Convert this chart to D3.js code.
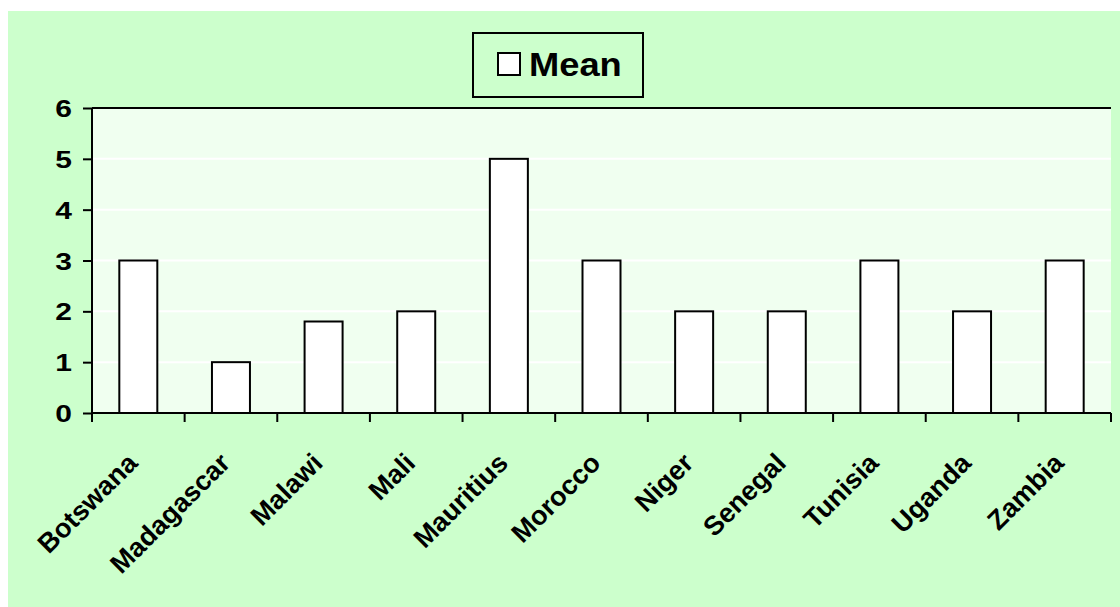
<!DOCTYPE html>
<html><head><meta charset="utf-8">
<script src="https://cdn.jsdelivr.net/npm/d3@7"></script>
<style>body{margin:0;background:#fff}svg{display:block}text{font-family:"Liberation Sans",Arial,sans-serif;font-weight:bold;fill:#000}</style>
</head><body>
<svg id="c" width="1120" height="607"></svg>
<script>
const categories = ["Botswana","Madagascar","Malawi","Mali","Mauritius","Morocco","Niger","Senegal","Tunisia","Uganda","Zambia"];
const meanValues = [3,1,1.8,2,5,3,2,2,3,2,3];
const yTicks = [0,1,2,3,4,5,6];
const seriesName = "Mean";

const svg = d3.select("#c");
svg.append("rect").attr("x",8).attr("y",11).attr("width",1112).attr("height",596).attr("fill","#ccffcc");

const m = {l:92, r:1111, t:108, b:413};
const xb = d3.scaleBand().domain(categories).range([m.l,m.r]);
const y = d3.scaleLinear().domain([0,6]).range([m.b,m.t]);

svg.append("rect").attr("x",m.l).attr("y",m.t).attr("width",m.r-m.l).attr("height",m.b-m.t).attr("fill","#f0fff0");

svg.append("g").selectAll("line").data(yTicks.filter(d=>d>0&&d<6)).join("line")
  .attr("x1",m.l).attr("x2",m.r).attr("y1",d=>y(d)).attr("y2",d=>y(d))
  .attr("stroke","#fff").attr("stroke-width",2);
svg.append("line").attr("x1",m.l).attr("x2",m.r).attr("y1",m.t).attr("y2",m.t).attr("stroke","#000").attr("stroke-width",2);

svg.append("g").selectAll("rect").data(categories).join("rect")
  .attr("x",(d)=>xb(d)+xb.bandwidth()/2-19)
  .attr("width",38)
  .attr("y",(d,i)=>y(meanValues[i]))
  .attr("height",(d,i)=>y(0)-y(meanValues[i]))
  .attr("fill","#fff").attr("stroke","#000").attr("stroke-width",2);

const ya = svg.append("g").attr("transform",`translate(${m.l},0)`)
  .call(d3.axisLeft(y).tickValues(yTicks).tickSize(9).tickPadding(10).tickFormat(d3.format("d")));
ya.attr("font-size",null).attr("font-family",null);
ya.select(".domain").attr("stroke","#000").attr("stroke-width",2).attr("d",`M0,${m.t}V${m.b}`);
ya.selectAll(".tick line").attr("stroke","#000").attr("stroke-width",2);
ya.selectAll("text").style("font-size","24px").attr("dy","0.36em")
  .attr("x",-20/1.25).attr("transform","scale(1.25,1)");

const xa = svg.append("g").attr("transform",`translate(0,${m.b})`)
  .call(d3.axisBottom(xb).tickSize(0).tickFormat(""));
xa.select(".domain").attr("stroke","#000").attr("stroke-width",2).attr("d",`M${m.l},0H${m.r}`);
const edges = categories.map(c=>xb(c)).concat([m.r]);
svg.append("g").selectAll("line").data(edges).join("line")
  .attr("x1",d=>d).attr("x2",d=>d).attr("y1",m.b).attr("y2",m.b+9).attr("stroke","#000").attr("stroke-width",2);

svg.append("g").selectAll("text").data(categories).join("text")
  .attr("transform",d=>`translate(${xb(d)+xb.bandwidth()/2-6},${m.b+45}) rotate(-45)`)
  .attr("text-anchor","end").attr("dy","0.35em").style("font-size","27px").text(d=>d);

const lg = svg.append("g");
lg.append("rect").attr("x",473).attr("y",33).attr("width",170).attr("height",64).attr("fill","#ccffcc").attr("stroke","#000").attr("stroke-width",2);
lg.append("rect").attr("x",498).attr("y",53).attr("width",22).attr("height",22).attr("fill","#fff").attr("stroke","#000").attr("stroke-width",2);
lg.append("text").attr("transform","translate(529,76) scale(1.1,1)").style("font-size","33px").text(seriesName);
</script>
</body></html>
